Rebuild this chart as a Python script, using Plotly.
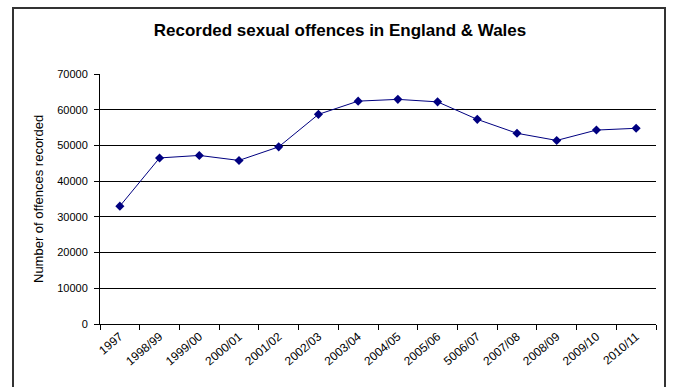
import plotly.graph_objects as go

categories = ["1997", "1998/99", "1999/00", "2000/01", "2001/02", "2002/03", "2003/04",
              "2004/05", "2005/06", "5006/07", "2007/08", "2008/09", "2009/10", "2010/11"]
offences = [33000, 46500, 47200, 45800, 49600, 58700, 62400,
            62900, 62200, 57300, 53400, 51400, 54300, 54800]
y_ticks = [0, 10000, 20000, 30000, 40000, 50000, 60000, 70000]

W, H = 673, 387
L, R, T, B = 100, 17, 74, 63
pw, ph = W - L - R, H - T - B

def px_x(px):
    return (px - L) / pw

def px_y(py):
    return (H - B - py) / ph

fig = go.Figure()
fig.add_trace(go.Scatter(
    x=categories, y=offences, mode="lines+markers",
    line=dict(color="#000080", width=1),
    marker=dict(symbol="diamond", size=7, color="#000080"),
    showlegend=False,
))

font_family = "Liberation Sans, Arial, sans-serif"

fig.update_layout(
    width=W, height=H,
    margin=dict(l=L, r=R, t=T, b=B),
    paper_bgcolor="white", plot_bgcolor="white",
    font=dict(family=font_family, color="black"),
    title=dict(text="<b>Recorded sexual offences in England &amp; Wales</b>",
               x=340 / W, xanchor="center", y=(H - 30) / H, yanchor="middle",
               font=dict(size=17, family=font_family, color="black")),
    xaxis=dict(
        type="category", range=[-0.5, len(categories) - 0.5],
        showgrid=False, showline=True, linecolor="black", linewidth=1,
        ticks="outside", ticklen=5, tickcolor="black", tickson="boundaries",
        tickangle=-40, tickfont=dict(size=12, family=font_family, color="black"),
        zeroline=False,
    ),
    yaxis=dict(
        range=[0, 70000], tickvals=y_ticks, ticktext=[str(v) for v in y_ticks],
        showgrid=True, gridcolor="black", gridwidth=1,
        showline=True, linecolor="black", linewidth=1,
        ticks="outside", ticklen=5, tickcolor="black", ticklabelstandoff=4,
        tickfont=dict(size=11, family=font_family, color="black"),
        zeroline=False,
    ),
    annotations=[dict(
        text="Number of offences recorded", textangle=-90,
        xref="paper", yref="paper", x=px_x(38), y=0.5,
        xanchor="center", yanchor="middle", showarrow=False,
        font=dict(size=13, family=font_family, color="black"),
    )],
    shapes=[dict(
        type="rect", xref="paper", yref="paper",
        x0=px_x(13), x1=px_x(665), y0=px_y(430), y1=px_y(8),
        line=dict(color="#333333", width=2), fillcolor="rgba(0,0,0,0)",
        layer="below",
    )],
)

fig.write_html("out.html")
